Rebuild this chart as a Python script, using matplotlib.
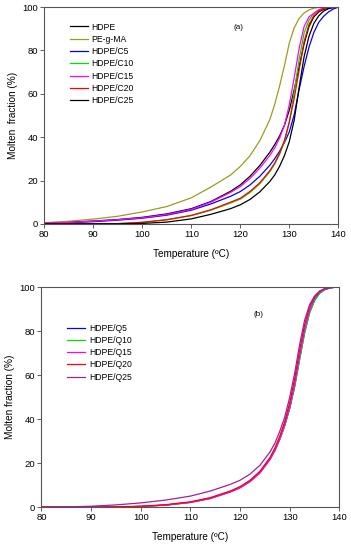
import matplotlib
matplotlib.use("Agg")
import matplotlib.pyplot as plt

plt.rcParams["font.family"] = ["Liberation Sans", "DejaVu Sans"]

# temperature grid (degC) shared by all curves
temp = [80, 85, 90, 95, 100, 105, 110, 114, 118, 120, 122, 124, 126, 127, 128,
        129, 130, 131, 132, 133, 134, 135, 136, 137, 138, 139, 140]

# panel (a): molten fraction (%)
hdpe = [0.4, 0.8, 1.3, 2.0, 3.0, 4.6, 7.0, 10.3, 15.0, 18.0, 22.0, 27.0, 33.0, 36.5,
        40.5, 45.5, 52.5, 62.0, 72.5, 83.0, 91.0, 95.5, 97.8, 99.0, 99.6, 100, 100]
pe_g_ma = [0.5, 1.2, 2.2, 3.5, 5.5, 8.0, 12.0, 17.0, 22.5, 26.5, 31.5, 38.5, 48.0, 55.0,
           63.5, 73.0, 83.5, 90.5, 94.8, 97.3, 98.7, 99.5, 99.9, 100, 100, 100, 100]
hdpe_c5 = [0.2, 0.5, 1.0, 1.7, 2.6, 4.0, 6.3, 9.2, 12.7, 14.9, 18.0, 22.0, 27.0, 30.0,
           33.5, 37.5, 42.5, 50.5, 62.0, 72.5, 81.5, 88.3, 93.0, 95.8, 97.8, 99.2, 100]
hdpe_c10 = [0, 0, 0, 0.1, 0.7, 1.9, 3.8, 6.3, 9.6, 11.4, 14.5, 18.5, 24.0, 27.5,
            32.0, 38.0, 47.0, 61.0, 76.0, 88.0, 94.0, 97.0, 98.7, 99.5, 99.9, 100, 100]
hdpe_c15 = [0.3, 0.7, 1.2, 1.9, 2.8, 4.3, 6.7, 10.0, 14.5, 17.2, 21.0, 25.8, 31.5, 35.0,
            39.5, 45.5, 55.0, 67.5, 81.0, 91.0, 95.5, 97.2, 98.8, 99.5, 100, 100, 100]
hdpe_c20 = [0, 0, 0, 0.1, 0.7, 1.9, 3.9, 6.5, 10.0, 11.8, 15.0, 19.0, 24.5, 28.0,
            32.5, 38.5, 47.0, 58.0, 71.0, 84.0, 92.0, 96.0, 98.2, 99.3, 99.8, 100, 100]
hdpe_c25 = [0, 0, 0, 0, 0.2, 0.8, 2.3, 4.4, 7.0, 8.8, 11.3, 14.8, 19.5, 22.5,
            26.5, 31.5, 38.0, 48.0, 63.0, 77.0, 86.5, 92.5, 96.0, 98.2, 99.3, 99.8, 100]

# panel (b)
hdpe_q5 = [0, 0, 0, 0.05, 0.3, 0.9, 2.2, 4.0, 7.0, 9.0, 11.8, 15.8, 21.8, 25.8,
           31.0, 37.2, 45.0, 55.0, 67.5, 79.5, 88.5, 94.0, 97.2, 98.8, 99.5, 99.9, 100]
hdpe_q10 = [0, 0, 0, 0.05, 0.3, 0.9, 2.1, 3.9, 6.9, 8.9, 11.6, 15.6, 21.6, 25.6,
            30.8, 37.0, 44.8, 54.8, 67.2, 79.2, 88.3, 93.9, 97.1, 98.8, 99.5, 99.9, 100]
hdpe_q15 = [0, 0, 0, 0.05, 0.3, 0.9, 2.1, 3.9, 6.8, 8.7, 11.5, 15.5, 21.5, 25.6,
            31.0, 37.5, 45.5, 56.0, 69.0, 81.0, 89.5, 95.0, 97.8, 99.0, 99.6, 100, 100]
hdpe_q20 = [0, 0, 0, 0.1, 0.4, 1.1, 2.4, 4.3, 7.3, 9.3, 12.2, 16.3, 22.5, 26.8,
            32.3, 39.0, 47.5, 58.5, 71.5, 83.0, 91.0, 95.5, 98.0, 99.2, 99.8, 100, 100]
hdpe_q25 = [0, 0.1, 0.4, 1.0, 1.9, 3.2, 5.0, 7.3, 10.3, 12.2, 15.0, 19.0, 25.0, 29.0,
            34.5, 41.0, 50.0, 61.0, 74.0, 85.0, 92.0, 96.0, 98.2, 99.3, 99.8, 100, 100]

series_a = [("HDPE", hdpe, "black"), ("PE-g-MA", pe_g_ma, "#9c9c1e"),
            ("HDPE/C5", hdpe_c5, "#0000ff"), ("HDPE/C10", hdpe_c10, "#00e000"),
            ("HDPE/C15", hdpe_c15, "#ff00ff"), ("HDPE/C20", hdpe_c20, "#ff0000"),
            ("HDPE/C25", hdpe_c25, "black")]
series_b = [("HDPE/Q5", hdpe_q5, "#0000ff"), ("HDPE/Q10", hdpe_q10, "#00e000"),
            ("HDPE/Q15", hdpe_q15, "#ff00ff"), ("HDPE/Q20", hdpe_q20, "#ff0000"),
            ("HDPE/Q25", hdpe_q25, "#a0209f")]


def style_axes(ax, ylabel, tag, tag_xy, leg_anchor):
    ax.set_xlim(80, 140)
    ax.set_ylim(0, 100)
    ax.set_xticks(range(80, 141, 10))
    ax.set_yticks(range(0, 101, 20))
    ax.tick_params(direction="out", length=3, width=0.6, labelsize=6.8, pad=1.5,
                   top=False, right=False, color="#444444")
    for s in ax.spines.values():
        s.set_color("#555555")
        s.set_linewidth(0.8)
    ax.set_xlabel("Temperature (ºC)", fontsize=7.2, labelpad=7)
    ax.set_ylabel(ylabel, fontsize=7.2, labelpad=3)
    ax.text(tag_xy[0], tag_xy[1], tag, transform=ax.transAxes, fontsize=5.8,
            ha="center", va="center")
    ax.legend(loc="upper left", bbox_to_anchor=leg_anchor, frameon=False,
              fontsize=6.2, handlelength=2.1, handletextpad=0.45, labelspacing=0.38,
              borderaxespad=0)


fig = plt.figure(figsize=(3.51, 5.50), dpi=100)
ax_a = fig.add_axes([0.126, 0.593, 0.838, 0.394])
ax_b = fig.add_axes([0.118, 0.078, 0.849, 0.400])

for name, vals, cor in series_a:
    ax_a.plot(temp, vals, color=cor, lw=0.9, label=name)
style_axes(ax_a, "Molten  fraction (%)", "(a)", (0.66, 0.905), (0.075, 0.945))

for name, vals, cor in series_b:
    ax_b.plot(temp, vals, color=cor, lw=0.9, label=name)
style_axes(ax_b, "Molten fraction (%)", "(b)", (0.73, 0.875), (0.075, 0.85))

fig.savefig("out.png", dpi=100)
